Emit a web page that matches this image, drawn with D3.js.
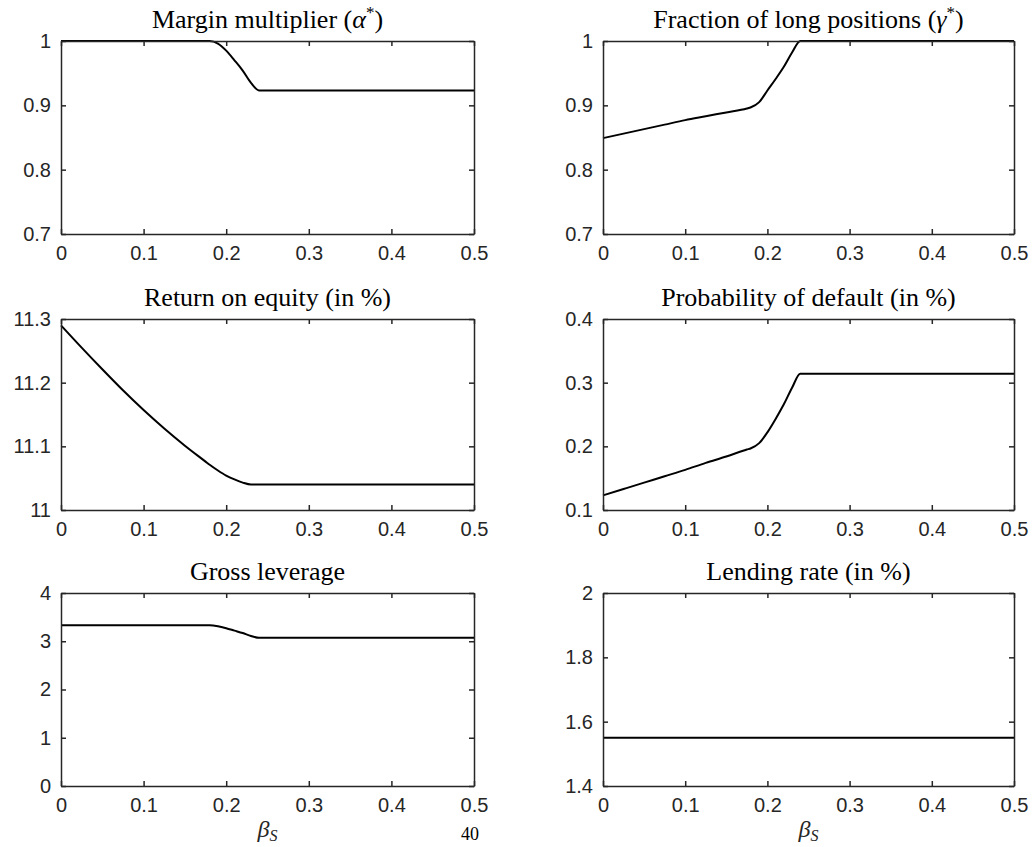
<!DOCTYPE html>
<html>
<head>
<meta charset="utf-8">
<script src="https://cdn.jsdelivr.net/npm/d3@7"></script>
<style>
  html, body { margin: 0; padding: 0; background: #fff; }
  svg { display: block; }
  .tick text { font-family: "Liberation Sans", Arial, Helvetica, sans-serif; font-size: 20px; fill: #262626; }
  .title { font-family: "Liberation Serif", "Times New Roman", serif; font-size: 26px; fill: #000; }
  .xlab { font-family: "Liberation Serif", "Times New Roman", serif; font-size: 24px; fill: #262626; }
</style>
</head>
<body>
<svg id="chart" width="1035" height="847"></svg>
<script>
// ---- data ----
const beta = [0, 0.025, 0.05, 0.075, 0.1, 0.125, 0.15, 0.175, 0.18, 0.19, 0.2, 0.21, 0.22, 0.23, 0.24, 0.3, 0.4, 0.5];
const marginMultiplier = [1, 1, 1, 1, 1, 1, 1, 1, 1, 0.996, 0.985, 0.970, 0.954, 0.935, 0.923, 0.923, 0.923, 0.923];
const fractionLong = [0.849, 0.856, 0.863, 0.870, 0.877, 0.883, 0.889, 0.895, 0.897, 0.905, 0.923, 0.941, 0.960, 0.982, 1, 1, 1, 1];
const returnOnEquity = [11.290, 11.255, 11.221, 11.188, 11.157, 11.128, 11.101, 11.076, 11.071, 11.062, 11.054, 11.048, 11.043, 11.040, 11.040, 11.040, 11.040, 11.040];
const probDefault = [0.123, 0.133, 0.143, 0.153, 0.163, 0.174, 0.184, 0.195, 0.197, 0.205, 0.222, 0.243, 0.266, 0.292, 0.314, 0.314, 0.314, 0.314];
const grossLeverage = [3.33, 3.33, 3.33, 3.33, 3.33, 3.33, 3.33, 3.33, 3.33, 3.31, 3.27, 3.22, 3.17, 3.11, 3.07, 3.07, 3.07, 3.07];
const lendingRate = [1.55, 1.55, 1.55, 1.55, 1.55, 1.55, 1.55, 1.55, 1.55, 1.55, 1.55, 1.55, 1.55, 1.55, 1.55, 1.55, 1.55, 1.55];

const xTicks = [0, 0.1, 0.2, 0.3, 0.4, 0.5];
const yTicks1 = [0.7, 0.8, 0.9, 1];
const yTicks2 = [0.7, 0.8, 0.9, 1];
const yTicks3 = [11, 11.1, 11.2, 11.3];
const yTicks4 = [0.1, 0.2, 0.3, 0.4];
const yTicks5 = [0, 1, 2, 3, 4];
const yTicks6 = [1.4, 1.6, 1.8, 2];

const titles = [
  ["Margin multiplier (", "α", "*", ")"],
  ["Fraction of long positions (", "γ", "*", ")"],
  ["Return on equity (in %)"],
  ["Probability of default (in %)"],
  ["Gross leverage"],
  ["Lending rate (in %)"]
];

const panels = [
  { values: marginMultiplier, ticks: yTicks1, title: titles[0] },
  { values: fractionLong, ticks: yTicks2, title: titles[1] },
  { values: returnOnEquity, ticks: yTicks3, title: titles[2] },
  { values: probDefault, ticks: yTicks4, title: titles[3] },
  { values: grossLeverage, ticks: yTicks5, title: titles[4], xlabel: true },
  { values: lendingRate, ticks: yTicks6, title: titles[5], xlabel: true }
];

// ---- layout ----
const cols = [[61, 474], [603, 1014]];
const rows = [[41, 234], [319, 510], [593, 786]];
const axisColor = "#262626";
const fmt = d3.format("~g");

const svg = d3.select("#chart");

panels.forEach((p, i) => {
  const [x0, x1] = cols[i % 2];
  const [y0, y1] = rows[Math.floor(i / 2)];
  const x = d3.scaleLinear().domain([0, 0.5]).range([x0, x1]);
  const y = d3.scaleLinear().domain(d3.extent(p.ticks)).range([y1, y0]);
  const g = svg.append("g");

  // data line
  const line = d3.line().x((d, k) => x(beta[k])).y(d => y(d)).curve(d3.curveMonotoneX);
  g.append("path").datum(p.values)
    .attr("d", line).attr("fill", "none")
    .attr("stroke", "#000").attr("stroke-width", 2).attr("stroke-linejoin", "round");

  // axes (box with inward ticks)
  const axB = d3.axisBottom(x).tickValues(xTicks).tickFormat(fmt).tickSizeInner(-5).tickSizeOuter(0).tickPadding(12);
  const axT = d3.axisTop(x).tickValues(xTicks).tickFormat("").tickSizeInner(-5).tickSizeOuter(0);
  const axL = d3.axisLeft(y).tickValues(p.ticks).tickFormat(fmt).tickSizeInner(-5).tickSizeOuter(0).tickPadding(10);
  const axR = d3.axisRight(y).tickValues(p.ticks).tickFormat("").tickSizeInner(-5).tickSizeOuter(0);

  [[axB, `translate(0,${y1})`], [axT, `translate(0,${y0})`], [axL, `translate(${x0},0)`], [axR, `translate(${x1},0)`]]
    .forEach(([ax, tr]) => {
      const a = g.append("g").attr("transform", tr).call(ax);
      a.selectAll("path.domain").attr("stroke", axisColor).attr("stroke-width", 1.5);
      a.selectAll(".tick line").attr("stroke", axisColor).attr("stroke-width", 1.5);
      a.selectAll(".tick text").attr("fill", axisColor).style("font-size", "20px");
    });

  // title
  const t = g.append("text").attr("class", "title")
    .attr("x", (x0 + x1) / 2).attr("y", y0 - 13).attr("text-anchor", "middle");
  if (p.title.length === 1) {
    t.text(p.title[0]);
  } else {
    t.append("tspan").text(p.title[0]);
    t.append("tspan").attr("font-style", "italic").text(p.title[1]);
    t.append("tspan").attr("dy", -10).attr("font-size", "17px").text(p.title[2]);
    t.append("tspan").attr("dy", 10).text(p.title[3]);
  }

  // x label
  if (p.xlabel) {
    const xl = g.append("text").attr("class", "xlab")
      .attr("x", (x0 + x1) / 2).attr("y", y1 + 51).attr("text-anchor", "middle");
    xl.append("tspan").attr("font-style", "italic").text("β");
    xl.append("tspan").attr("font-style", "italic").attr("font-size", "16px").attr("dy", 4).text("S");
  }
});

// page number (cut off at the bottom edge in the source; kept fully visible here)
svg.append("text").attr("x", 470).attr("y", 840).attr("text-anchor", "middle")
  .attr("font-family", "Liberation Serif, serif").attr("font-size", "18px").attr("fill", "#000").text("40");
</script>
</body>
</html>
